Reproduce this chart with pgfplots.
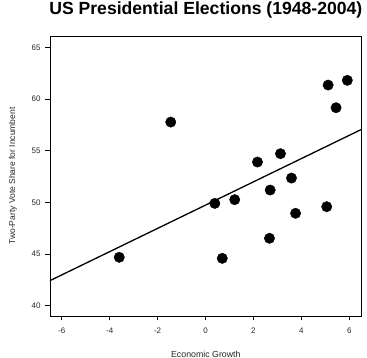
\documentclass[border=0pt]{standalone}
\usepackage{pgfplots}
\pgfplotsset{compat=1.18}
\usepackage{fontspec}
\setmainfont{Liberation Sans}
\begin{document}
\begin{tikzpicture}
\useasboundingbox (-50pt,-42pt) rectangle (317pt,316pt);
\begin{axis}[
  at={(0,0)}, anchor=south west,
  scale only axis,
  width=311.7pt, height=280pt,
  xmin=-6.49, xmax=6.52,
  ymin=39.0, ymax=66.1,
  xtick={-6,-4,-2,0,2,4,6},
  ytick={40,45,50,55,60,65},
  xtick pos=bottom, ytick pos=left,
  tick align=outside,
  major tick length=4.5pt,
  every tick/.style={black, line width=0.6pt},
  axis line style={line width=0.6pt},
  /pgf/number format/assume math mode=true,
  tick label style={font=\fontsize{8}{9}\selectfont, text=black!85},
  xticklabel style={yshift=-3.5pt},
  yticklabel style={xshift=-1.5pt},
  title={US Presidential Elections (1948-2004)},
  title style={at={(0.5,1)}, anchor=base, yshift=15.3pt, font=\bfseries\fontsize{17.6}{20}\selectfont},
  xlabel={Economic Growth},
  xlabel style={at={(axis description cs:0.5,-0.1357)}, anchor=center, font=\fontsize{8.8}{10}\selectfont, text=black!85},
  ylabel={Two-Party Vote Share for Incumbent},
  ylabel style={at={(axis description cs:-0.1187,0.5)}, anchor=center, font=\fontsize{8.5}{10}\selectfont, text=black!85},
  clip=true,
]
\addplot[only marks, mark=*, mark size=5.2pt, black] coordinates {
(-3.60,44.68) (-1.45,57.77) (0.39,49.90) (0.70,44.58) (1.22,50.26)
(2.17,53.90) (2.70,51.19) (2.67,46.52) (3.13,54.71) (3.59,52.35)
(3.76,48.94) (5.06,49.58) (5.12,61.35) (5.45,59.16) (5.92,61.81)
};
\addplot[black, line width=1.3pt] coordinates {(-7,41.85) (7,57.61)};
\end{axis}
\end{tikzpicture}
\end{document}
